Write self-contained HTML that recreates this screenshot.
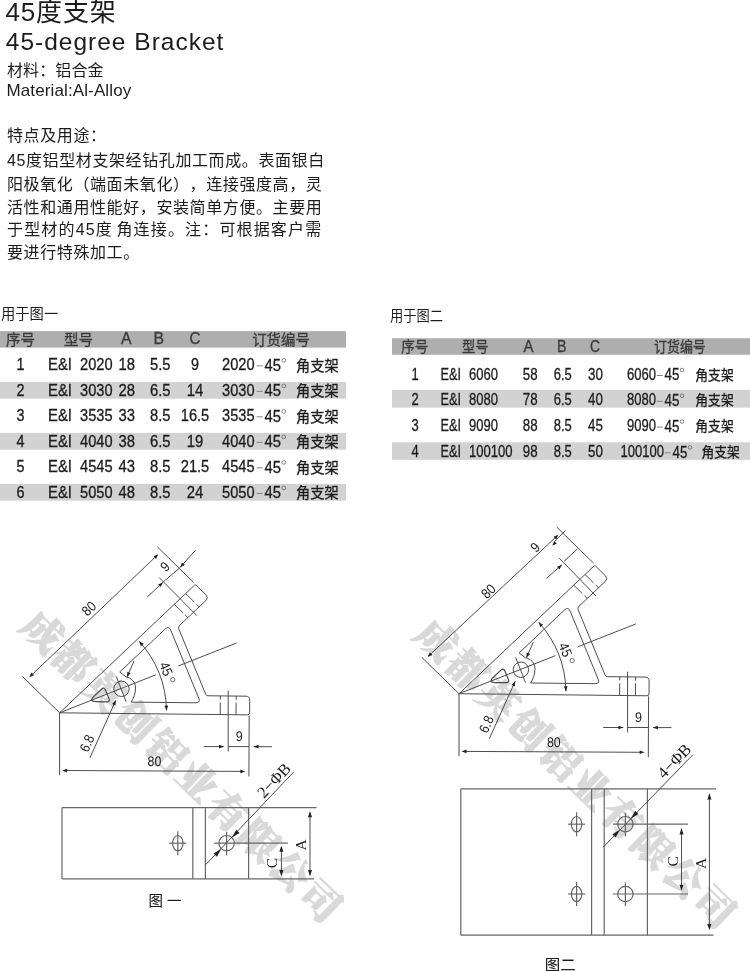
<!DOCTYPE html>
<html lang="zh-CN">
<head>
<meta charset="utf-8">
<title>45度支架 45-degree Bracket</title>
<style>
html,body{margin:0;padding:0;background:#fff;}
body{will-change:transform;filter:grayscale(1);}
body{width:750px;height:971px;position:relative;overflow:hidden;color:#1c1c1c;
 font-family:"Liberation Sans","Noto Sans CJK SC",sans-serif;text-spacing-trim:space-all;}
.t{position:absolute;white-space:nowrap;line-height:1;margin:0;}
.h1{left:5.6px;top:-0.6px;font-size:26px;letter-spacing:0.8px;}
.h2{left:5.8px;top:30px;font-size:24.5px;letter-spacing:1.0px;}
.m1{left:7px;top:62.6px;font-size:16px;letter-spacing:0.1px;}
.m2{left:6.5px;top:82px;font-size:17px;letter-spacing:0.12px;}
.p{left:7px;font-size:16px;letter-spacing:0.6px;}
</style>
</head>
<body>
<div class="t h1">45度支架</div>
<div class="t h2">45-degree Bracket</div>
<div class="t m1">材料：铝合金</div>
<div class="t m2">Material:Al-Alloy</div>
<div class="t p" style="top:128px">特点及用途：</div>
<div class="t p" style="top:153px">45度铝型材支架经钻孔加工而成。表面银白</div>
<div class="t p" style="top:176.6px">阳极氧化（端面未氧化），连接强度高，灵</div>
<div class="t p" style="top:199.6px">活性和通用性能好，安装简单方便。主要用</div>
<div class="t p" style="top:222px;letter-spacing:1.16px">于型材的45度<span style="margin-left:3.5px">角</span>连接。注：可根据客户需</div>
<div class="t p" style="top:245px">要进行特殊加工。</div>
<svg width="750" height="971" viewBox="0 0 750 971" style="position:absolute;left:0;top:0">
<g id="table1">
<text x="1.0" y="319.3" font-size="14.3" font-family='"Liberation Sans","Noto Sans CJK SC",sans-serif' text-anchor="start" fill="#1c1c1c" stroke="#1c1c1c" stroke-width="0">用于图一</text>
<rect x="0" y="331.1" width="346" height="16.5" fill="#aeaeae"/>
<rect x="0" y="381.9" width="346" height="16.8" fill="#d2d2d2"/>
<rect x="0" y="432.9" width="346" height="16.8" fill="#d2d2d2"/>
<rect x="0" y="483.9" width="346" height="16.8" fill="#d2d2d2"/>
<text x="6.0" y="344.6" font-size="14.5" font-family='"Liberation Sans","Noto Sans CJK SC",sans-serif' text-anchor="start" fill="#3a3a3a" stroke="#3a3a3a" stroke-width="0.3" textLength="29.0" lengthAdjust="spacingAndGlyphs">序号</text>
<text x="64.0" y="344.6" font-size="14.5" font-family='"Liberation Sans","Noto Sans CJK SC",sans-serif' text-anchor="start" fill="#3a3a3a" stroke="#3a3a3a" stroke-width="0.3" textLength="29.0" lengthAdjust="spacingAndGlyphs">型号</text>
<text x="121.0" y="344.2" font-size="16" font-family='"Liberation Sans","Noto Sans CJK SC",sans-serif' text-anchor="start" fill="#3a3a3a" stroke="#3a3a3a" stroke-width="0.3" textLength="10.5" lengthAdjust="spacingAndGlyphs">A</text>
<text x="153.5" y="344.2" font-size="16" font-family='"Liberation Sans","Noto Sans CJK SC",sans-serif' text-anchor="start" fill="#3a3a3a" stroke="#3a3a3a" stroke-width="0.3" textLength="10.5" lengthAdjust="spacingAndGlyphs">B</text>
<text x="189.5" y="344.2" font-size="16" font-family='"Liberation Sans","Noto Sans CJK SC",sans-serif' text-anchor="start" fill="#3a3a3a" stroke="#3a3a3a" stroke-width="0.3" textLength="11.0" lengthAdjust="spacingAndGlyphs">C</text>
<text x="252.2" y="344.6" font-size="14.5" font-family='"Liberation Sans","Noto Sans CJK SC",sans-serif' text-anchor="start" fill="#3a3a3a" stroke="#3a3a3a" stroke-width="0.3" textLength="57.6" lengthAdjust="spacingAndGlyphs">订货编号</text>
<text x="20.5" y="370.0" font-size="16" font-family='"Liberation Sans","Noto Sans CJK SC",sans-serif' text-anchor="middle" fill="#1c1c1c" stroke="#1c1c1c" stroke-width="0.3" textLength="8.0" lengthAdjust="spacingAndGlyphs">1</text>
<text x="48.0" y="370.0" font-size="16" font-family='"Liberation Sans","Noto Sans CJK SC",sans-serif' text-anchor="start" fill="#1c1c1c" stroke="#1c1c1c" stroke-width="0.3" textLength="24.0" lengthAdjust="spacingAndGlyphs">E&amp;I</text>
<text x="80.0" y="370.0" font-size="16" font-family='"Liberation Sans","Noto Sans CJK SC",sans-serif' text-anchor="start" fill="#1c1c1c" stroke="#1c1c1c" stroke-width="0.3" textLength="32.5" lengthAdjust="spacingAndGlyphs">2020</text>
<text x="118.5" y="370.0" font-size="16" font-family='"Liberation Sans","Noto Sans CJK SC",sans-serif' text-anchor="start" fill="#1c1c1c" stroke="#1c1c1c" stroke-width="0.3" textLength="16.5" lengthAdjust="spacingAndGlyphs">18</text>
<text x="150.0" y="370.0" font-size="16" font-family='"Liberation Sans","Noto Sans CJK SC",sans-serif' text-anchor="start" fill="#1c1c1c" stroke="#1c1c1c" stroke-width="0.3" textLength="20.5" lengthAdjust="spacingAndGlyphs">5.5</text>
<text x="195.0" y="370.0" font-size="16" font-family='"Liberation Sans","Noto Sans CJK SC",sans-serif' text-anchor="middle" fill="#1c1c1c" stroke="#1c1c1c" stroke-width="0.3" textLength="8.0" lengthAdjust="spacingAndGlyphs">9</text>
<text x="222.0" y="370.0" font-size="16" font-family='"Liberation Sans","Noto Sans CJK SC",sans-serif' text-anchor="start" fill="#1c1c1c" stroke="#1c1c1c" stroke-width="0.3" textLength="32.5" lengthAdjust="spacingAndGlyphs">2020</text>
<rect x="256.6" y="365.4" width="6" height="0.9" fill="#777"/>
<text x="264.5" y="370.6" font-size="16" font-family='"Liberation Sans","Noto Sans CJK SC",sans-serif' text-anchor="start" fill="#1c1c1c" stroke="#1c1c1c" stroke-width="0.3" textLength="16.5" lengthAdjust="spacingAndGlyphs">45</text>
<circle cx="283.8" cy="360.4" r="1.9" fill="none" stroke="#555" stroke-width="0.7"/>
<text x="296.0" y="370.5" font-size="15" font-family='"Liberation Sans","Noto Sans CJK SC",sans-serif' text-anchor="start" fill="#1c1c1c" stroke="#1c1c1c" stroke-width="0.3" textLength="42.6" lengthAdjust="spacingAndGlyphs">角支架</text>
<text x="20.5" y="395.5" font-size="16" font-family='"Liberation Sans","Noto Sans CJK SC",sans-serif' text-anchor="middle" fill="#1c1c1c" stroke="#1c1c1c" stroke-width="0.3" textLength="8.0" lengthAdjust="spacingAndGlyphs">2</text>
<text x="48.0" y="395.5" font-size="16" font-family='"Liberation Sans","Noto Sans CJK SC",sans-serif' text-anchor="start" fill="#1c1c1c" stroke="#1c1c1c" stroke-width="0.3" textLength="24.0" lengthAdjust="spacingAndGlyphs">E&amp;I</text>
<text x="80.0" y="395.5" font-size="16" font-family='"Liberation Sans","Noto Sans CJK SC",sans-serif' text-anchor="start" fill="#1c1c1c" stroke="#1c1c1c" stroke-width="0.3" textLength="32.5" lengthAdjust="spacingAndGlyphs">3030</text>
<text x="118.5" y="395.5" font-size="16" font-family='"Liberation Sans","Noto Sans CJK SC",sans-serif' text-anchor="start" fill="#1c1c1c" stroke="#1c1c1c" stroke-width="0.3" textLength="16.5" lengthAdjust="spacingAndGlyphs">28</text>
<text x="150.0" y="395.5" font-size="16" font-family='"Liberation Sans","Noto Sans CJK SC",sans-serif' text-anchor="start" fill="#1c1c1c" stroke="#1c1c1c" stroke-width="0.3" textLength="20.5" lengthAdjust="spacingAndGlyphs">6.5</text>
<text x="195.0" y="395.5" font-size="16" font-family='"Liberation Sans","Noto Sans CJK SC",sans-serif' text-anchor="middle" fill="#1c1c1c" stroke="#1c1c1c" stroke-width="0.3" textLength="16.5" lengthAdjust="spacingAndGlyphs">14</text>
<text x="222.0" y="395.5" font-size="16" font-family='"Liberation Sans","Noto Sans CJK SC",sans-serif' text-anchor="start" fill="#1c1c1c" stroke="#1c1c1c" stroke-width="0.3" textLength="32.5" lengthAdjust="spacingAndGlyphs">3030</text>
<rect x="256.6" y="390.9" width="6" height="0.9" fill="#777"/>
<text x="264.5" y="396.1" font-size="16" font-family='"Liberation Sans","Noto Sans CJK SC",sans-serif' text-anchor="start" fill="#1c1c1c" stroke="#1c1c1c" stroke-width="0.3" textLength="16.5" lengthAdjust="spacingAndGlyphs">45</text>
<circle cx="283.8" cy="385.9" r="1.9" fill="none" stroke="#555" stroke-width="0.7"/>
<text x="296.0" y="396.0" font-size="15" font-family='"Liberation Sans","Noto Sans CJK SC",sans-serif' text-anchor="start" fill="#1c1c1c" stroke="#1c1c1c" stroke-width="0.3" textLength="42.6" lengthAdjust="spacingAndGlyphs">角支架</text>
<text x="20.5" y="421.0" font-size="16" font-family='"Liberation Sans","Noto Sans CJK SC",sans-serif' text-anchor="middle" fill="#1c1c1c" stroke="#1c1c1c" stroke-width="0.3" textLength="8.0" lengthAdjust="spacingAndGlyphs">3</text>
<text x="48.0" y="421.0" font-size="16" font-family='"Liberation Sans","Noto Sans CJK SC",sans-serif' text-anchor="start" fill="#1c1c1c" stroke="#1c1c1c" stroke-width="0.3" textLength="24.0" lengthAdjust="spacingAndGlyphs">E&amp;I</text>
<text x="80.0" y="421.0" font-size="16" font-family='"Liberation Sans","Noto Sans CJK SC",sans-serif' text-anchor="start" fill="#1c1c1c" stroke="#1c1c1c" stroke-width="0.3" textLength="32.5" lengthAdjust="spacingAndGlyphs">3535</text>
<text x="118.5" y="421.0" font-size="16" font-family='"Liberation Sans","Noto Sans CJK SC",sans-serif' text-anchor="start" fill="#1c1c1c" stroke="#1c1c1c" stroke-width="0.3" textLength="16.5" lengthAdjust="spacingAndGlyphs">33</text>
<text x="150.0" y="421.0" font-size="16" font-family='"Liberation Sans","Noto Sans CJK SC",sans-serif' text-anchor="start" fill="#1c1c1c" stroke="#1c1c1c" stroke-width="0.3" textLength="20.5" lengthAdjust="spacingAndGlyphs">8.5</text>
<text x="195.0" y="421.0" font-size="16" font-family='"Liberation Sans","Noto Sans CJK SC",sans-serif' text-anchor="middle" fill="#1c1c1c" stroke="#1c1c1c" stroke-width="0.3" textLength="28.5" lengthAdjust="spacingAndGlyphs">16.5</text>
<text x="222.0" y="421.0" font-size="16" font-family='"Liberation Sans","Noto Sans CJK SC",sans-serif' text-anchor="start" fill="#1c1c1c" stroke="#1c1c1c" stroke-width="0.3" textLength="32.5" lengthAdjust="spacingAndGlyphs">3535</text>
<rect x="256.6" y="416.4" width="6" height="0.9" fill="#777"/>
<text x="264.5" y="421.6" font-size="16" font-family='"Liberation Sans","Noto Sans CJK SC",sans-serif' text-anchor="start" fill="#1c1c1c" stroke="#1c1c1c" stroke-width="0.3" textLength="16.5" lengthAdjust="spacingAndGlyphs">45</text>
<circle cx="283.8" cy="411.4" r="1.9" fill="none" stroke="#555" stroke-width="0.7"/>
<text x="296.0" y="421.5" font-size="15" font-family='"Liberation Sans","Noto Sans CJK SC",sans-serif' text-anchor="start" fill="#1c1c1c" stroke="#1c1c1c" stroke-width="0.3" textLength="42.6" lengthAdjust="spacingAndGlyphs">角支架</text>
<text x="20.5" y="446.5" font-size="16" font-family='"Liberation Sans","Noto Sans CJK SC",sans-serif' text-anchor="middle" fill="#1c1c1c" stroke="#1c1c1c" stroke-width="0.3" textLength="8.0" lengthAdjust="spacingAndGlyphs">4</text>
<text x="48.0" y="446.5" font-size="16" font-family='"Liberation Sans","Noto Sans CJK SC",sans-serif' text-anchor="start" fill="#1c1c1c" stroke="#1c1c1c" stroke-width="0.3" textLength="24.0" lengthAdjust="spacingAndGlyphs">E&amp;I</text>
<text x="80.0" y="446.5" font-size="16" font-family='"Liberation Sans","Noto Sans CJK SC",sans-serif' text-anchor="start" fill="#1c1c1c" stroke="#1c1c1c" stroke-width="0.3" textLength="32.5" lengthAdjust="spacingAndGlyphs">4040</text>
<text x="118.5" y="446.5" font-size="16" font-family='"Liberation Sans","Noto Sans CJK SC",sans-serif' text-anchor="start" fill="#1c1c1c" stroke="#1c1c1c" stroke-width="0.3" textLength="16.5" lengthAdjust="spacingAndGlyphs">38</text>
<text x="150.0" y="446.5" font-size="16" font-family='"Liberation Sans","Noto Sans CJK SC",sans-serif' text-anchor="start" fill="#1c1c1c" stroke="#1c1c1c" stroke-width="0.3" textLength="20.5" lengthAdjust="spacingAndGlyphs">6.5</text>
<text x="195.0" y="446.5" font-size="16" font-family='"Liberation Sans","Noto Sans CJK SC",sans-serif' text-anchor="middle" fill="#1c1c1c" stroke="#1c1c1c" stroke-width="0.3" textLength="16.5" lengthAdjust="spacingAndGlyphs">19</text>
<text x="222.0" y="446.5" font-size="16" font-family='"Liberation Sans","Noto Sans CJK SC",sans-serif' text-anchor="start" fill="#1c1c1c" stroke="#1c1c1c" stroke-width="0.3" textLength="32.5" lengthAdjust="spacingAndGlyphs">4040</text>
<rect x="256.6" y="441.9" width="6" height="0.9" fill="#777"/>
<text x="264.5" y="447.1" font-size="16" font-family='"Liberation Sans","Noto Sans CJK SC",sans-serif' text-anchor="start" fill="#1c1c1c" stroke="#1c1c1c" stroke-width="0.3" textLength="16.5" lengthAdjust="spacingAndGlyphs">45</text>
<circle cx="283.8" cy="436.9" r="1.9" fill="none" stroke="#555" stroke-width="0.7"/>
<text x="296.0" y="447.0" font-size="15" font-family='"Liberation Sans","Noto Sans CJK SC",sans-serif' text-anchor="start" fill="#1c1c1c" stroke="#1c1c1c" stroke-width="0.3" textLength="42.6" lengthAdjust="spacingAndGlyphs">角支架</text>
<text x="20.5" y="472.0" font-size="16" font-family='"Liberation Sans","Noto Sans CJK SC",sans-serif' text-anchor="middle" fill="#1c1c1c" stroke="#1c1c1c" stroke-width="0.3" textLength="8.0" lengthAdjust="spacingAndGlyphs">5</text>
<text x="48.0" y="472.0" font-size="16" font-family='"Liberation Sans","Noto Sans CJK SC",sans-serif' text-anchor="start" fill="#1c1c1c" stroke="#1c1c1c" stroke-width="0.3" textLength="24.0" lengthAdjust="spacingAndGlyphs">E&amp;I</text>
<text x="80.0" y="472.0" font-size="16" font-family='"Liberation Sans","Noto Sans CJK SC",sans-serif' text-anchor="start" fill="#1c1c1c" stroke="#1c1c1c" stroke-width="0.3" textLength="32.5" lengthAdjust="spacingAndGlyphs">4545</text>
<text x="118.5" y="472.0" font-size="16" font-family='"Liberation Sans","Noto Sans CJK SC",sans-serif' text-anchor="start" fill="#1c1c1c" stroke="#1c1c1c" stroke-width="0.3" textLength="16.5" lengthAdjust="spacingAndGlyphs">43</text>
<text x="150.0" y="472.0" font-size="16" font-family='"Liberation Sans","Noto Sans CJK SC",sans-serif' text-anchor="start" fill="#1c1c1c" stroke="#1c1c1c" stroke-width="0.3" textLength="20.5" lengthAdjust="spacingAndGlyphs">8.5</text>
<text x="195.0" y="472.0" font-size="16" font-family='"Liberation Sans","Noto Sans CJK SC",sans-serif' text-anchor="middle" fill="#1c1c1c" stroke="#1c1c1c" stroke-width="0.3" textLength="28.5" lengthAdjust="spacingAndGlyphs">21.5</text>
<text x="222.0" y="472.0" font-size="16" font-family='"Liberation Sans","Noto Sans CJK SC",sans-serif' text-anchor="start" fill="#1c1c1c" stroke="#1c1c1c" stroke-width="0.3" textLength="32.5" lengthAdjust="spacingAndGlyphs">4545</text>
<rect x="256.6" y="467.4" width="6" height="0.9" fill="#777"/>
<text x="264.5" y="472.6" font-size="16" font-family='"Liberation Sans","Noto Sans CJK SC",sans-serif' text-anchor="start" fill="#1c1c1c" stroke="#1c1c1c" stroke-width="0.3" textLength="16.5" lengthAdjust="spacingAndGlyphs">45</text>
<circle cx="283.8" cy="462.4" r="1.9" fill="none" stroke="#555" stroke-width="0.7"/>
<text x="296.0" y="472.5" font-size="15" font-family='"Liberation Sans","Noto Sans CJK SC",sans-serif' text-anchor="start" fill="#1c1c1c" stroke="#1c1c1c" stroke-width="0.3" textLength="42.6" lengthAdjust="spacingAndGlyphs">角支架</text>
<text x="20.5" y="497.5" font-size="16" font-family='"Liberation Sans","Noto Sans CJK SC",sans-serif' text-anchor="middle" fill="#1c1c1c" stroke="#1c1c1c" stroke-width="0.3" textLength="8.0" lengthAdjust="spacingAndGlyphs">6</text>
<text x="48.0" y="497.5" font-size="16" font-family='"Liberation Sans","Noto Sans CJK SC",sans-serif' text-anchor="start" fill="#1c1c1c" stroke="#1c1c1c" stroke-width="0.3" textLength="24.0" lengthAdjust="spacingAndGlyphs">E&amp;I</text>
<text x="80.0" y="497.5" font-size="16" font-family='"Liberation Sans","Noto Sans CJK SC",sans-serif' text-anchor="start" fill="#1c1c1c" stroke="#1c1c1c" stroke-width="0.3" textLength="32.5" lengthAdjust="spacingAndGlyphs">5050</text>
<text x="118.5" y="497.5" font-size="16" font-family='"Liberation Sans","Noto Sans CJK SC",sans-serif' text-anchor="start" fill="#1c1c1c" stroke="#1c1c1c" stroke-width="0.3" textLength="16.5" lengthAdjust="spacingAndGlyphs">48</text>
<text x="150.0" y="497.5" font-size="16" font-family='"Liberation Sans","Noto Sans CJK SC",sans-serif' text-anchor="start" fill="#1c1c1c" stroke="#1c1c1c" stroke-width="0.3" textLength="20.5" lengthAdjust="spacingAndGlyphs">8.5</text>
<text x="195.0" y="497.5" font-size="16" font-family='"Liberation Sans","Noto Sans CJK SC",sans-serif' text-anchor="middle" fill="#1c1c1c" stroke="#1c1c1c" stroke-width="0.3" textLength="16.5" lengthAdjust="spacingAndGlyphs">24</text>
<text x="222.0" y="497.5" font-size="16" font-family='"Liberation Sans","Noto Sans CJK SC",sans-serif' text-anchor="start" fill="#1c1c1c" stroke="#1c1c1c" stroke-width="0.3" textLength="32.5" lengthAdjust="spacingAndGlyphs">5050</text>
<rect x="256.6" y="492.9" width="6" height="0.9" fill="#777"/>
<text x="264.5" y="498.1" font-size="16" font-family='"Liberation Sans","Noto Sans CJK SC",sans-serif' text-anchor="start" fill="#1c1c1c" stroke="#1c1c1c" stroke-width="0.3" textLength="16.5" lengthAdjust="spacingAndGlyphs">45</text>
<circle cx="283.8" cy="487.9" r="1.9" fill="none" stroke="#555" stroke-width="0.7"/>
<text x="296.0" y="498.0" font-size="15" font-family='"Liberation Sans","Noto Sans CJK SC",sans-serif' text-anchor="start" fill="#1c1c1c" stroke="#1c1c1c" stroke-width="0.3" textLength="42.6" lengthAdjust="spacingAndGlyphs">角支架</text>
</g>
<g id="table2">
<text x="390.0" y="321.3" font-size="14.3" font-family='"Liberation Sans","Noto Sans CJK SC",sans-serif' text-anchor="start" fill="#1c1c1c" stroke="#1c1c1c" stroke-width="0" textLength="53.0" lengthAdjust="spacingAndGlyphs">用于图二</text>
<rect x="392" y="338.2" width="358" height="16.6" fill="#aeaeae"/>
<rect x="392" y="390" width="358" height="17.6" fill="#d2d2d2"/>
<rect x="392" y="442.3" width="358" height="17.6" fill="#d2d2d2"/>
<text x="401.3" y="352.2" font-size="14.5" font-family='"Liberation Sans","Noto Sans CJK SC",sans-serif' text-anchor="start" fill="#3a3a3a" stroke="#3a3a3a" stroke-width="0.3" textLength="27.0" lengthAdjust="spacingAndGlyphs">序号</text>
<text x="462.0" y="352.2" font-size="14.5" font-family='"Liberation Sans","Noto Sans CJK SC",sans-serif' text-anchor="start" fill="#3a3a3a" stroke="#3a3a3a" stroke-width="0.3" textLength="26.5" lengthAdjust="spacingAndGlyphs">型号</text>
<text x="523.5" y="351.8" font-size="16" font-family='"Liberation Sans","Noto Sans CJK SC",sans-serif' text-anchor="start" fill="#3a3a3a" stroke="#3a3a3a" stroke-width="0.3" textLength="10.0" lengthAdjust="spacingAndGlyphs">A</text>
<text x="557.0" y="351.8" font-size="16" font-family='"Liberation Sans","Noto Sans CJK SC",sans-serif' text-anchor="start" fill="#3a3a3a" stroke="#3a3a3a" stroke-width="0.3" textLength="9.5" lengthAdjust="spacingAndGlyphs">B</text>
<text x="590.0" y="351.8" font-size="16" font-family='"Liberation Sans","Noto Sans CJK SC",sans-serif' text-anchor="start" fill="#3a3a3a" stroke="#3a3a3a" stroke-width="0.3" textLength="10.0" lengthAdjust="spacingAndGlyphs">C</text>
<text x="654.0" y="352.2" font-size="14.5" font-family='"Liberation Sans","Noto Sans CJK SC",sans-serif' text-anchor="start" fill="#3a3a3a" stroke="#3a3a3a" stroke-width="0.3" textLength="51.8" lengthAdjust="spacingAndGlyphs">订货编号</text>
<text x="415.0" y="379.6" font-size="16" font-family='"Liberation Sans","Noto Sans CJK SC",sans-serif' text-anchor="middle" fill="#1c1c1c" stroke="#1c1c1c" stroke-width="0.3" textLength="7.2" lengthAdjust="spacingAndGlyphs">1</text>
<text x="440.5" y="379.6" font-size="16" font-family='"Liberation Sans","Noto Sans CJK SC",sans-serif' text-anchor="start" fill="#1c1c1c" stroke="#1c1c1c" stroke-width="0.3" textLength="20.5" lengthAdjust="spacingAndGlyphs">E&amp;I</text>
<text x="469.0" y="379.6" font-size="16" font-family='"Liberation Sans","Noto Sans CJK SC",sans-serif' text-anchor="start" fill="#1c1c1c" stroke="#1c1c1c" stroke-width="0.3" textLength="29.0" lengthAdjust="spacingAndGlyphs">6060</text>
<text x="522.8" y="379.6" font-size="16" font-family='"Liberation Sans","Noto Sans CJK SC",sans-serif' text-anchor="start" fill="#1c1c1c" stroke="#1c1c1c" stroke-width="0.3" textLength="14.8" lengthAdjust="spacingAndGlyphs">58</text>
<text x="553.8" y="379.6" font-size="16" font-family='"Liberation Sans","Noto Sans CJK SC",sans-serif' text-anchor="start" fill="#1c1c1c" stroke="#1c1c1c" stroke-width="0.3" textLength="18.0" lengthAdjust="spacingAndGlyphs">6.5</text>
<text x="588.0" y="379.6" font-size="16" font-family='"Liberation Sans","Noto Sans CJK SC",sans-serif' text-anchor="start" fill="#1c1c1c" stroke="#1c1c1c" stroke-width="0.3" textLength="14.8" lengthAdjust="spacingAndGlyphs">30</text>
<text x="627.0" y="379.6" font-size="16" font-family='"Liberation Sans","Noto Sans CJK SC",sans-serif' text-anchor="start" fill="#1c1c1c" stroke="#1c1c1c" stroke-width="0.3" textLength="29.0" lengthAdjust="spacingAndGlyphs">6060</text>
<rect x="656.8" y="375.0" width="6" height="0.9" fill="#777"/>
<text x="664.5" y="380.2" font-size="16" font-family='"Liberation Sans","Noto Sans CJK SC",sans-serif' text-anchor="start" fill="#1c1c1c" stroke="#1c1c1c" stroke-width="0.3" textLength="14.8" lengthAdjust="spacingAndGlyphs">45</text>
<circle cx="682.0" cy="370.0" r="1.8" fill="none" stroke="#555" stroke-width="0.7"/>
<text x="695.3" y="379.5" font-size="14.2" font-family='"Liberation Sans","Noto Sans CJK SC",sans-serif' text-anchor="start" fill="#1c1c1c" stroke="#1c1c1c" stroke-width="0.3" textLength="38.4" lengthAdjust="spacingAndGlyphs">角支架</text>
<text x="415.0" y="405.4" font-size="16" font-family='"Liberation Sans","Noto Sans CJK SC",sans-serif' text-anchor="middle" fill="#1c1c1c" stroke="#1c1c1c" stroke-width="0.3" textLength="7.2" lengthAdjust="spacingAndGlyphs">2</text>
<text x="440.5" y="405.4" font-size="16" font-family='"Liberation Sans","Noto Sans CJK SC",sans-serif' text-anchor="start" fill="#1c1c1c" stroke="#1c1c1c" stroke-width="0.3" textLength="20.5" lengthAdjust="spacingAndGlyphs">E&amp;I</text>
<text x="469.0" y="405.4" font-size="16" font-family='"Liberation Sans","Noto Sans CJK SC",sans-serif' text-anchor="start" fill="#1c1c1c" stroke="#1c1c1c" stroke-width="0.3" textLength="29.0" lengthAdjust="spacingAndGlyphs">8080</text>
<text x="522.8" y="405.4" font-size="16" font-family='"Liberation Sans","Noto Sans CJK SC",sans-serif' text-anchor="start" fill="#1c1c1c" stroke="#1c1c1c" stroke-width="0.3" textLength="14.8" lengthAdjust="spacingAndGlyphs">78</text>
<text x="553.8" y="405.4" font-size="16" font-family='"Liberation Sans","Noto Sans CJK SC",sans-serif' text-anchor="start" fill="#1c1c1c" stroke="#1c1c1c" stroke-width="0.3" textLength="18.0" lengthAdjust="spacingAndGlyphs">6.5</text>
<text x="588.0" y="405.4" font-size="16" font-family='"Liberation Sans","Noto Sans CJK SC",sans-serif' text-anchor="start" fill="#1c1c1c" stroke="#1c1c1c" stroke-width="0.3" textLength="14.8" lengthAdjust="spacingAndGlyphs">40</text>
<text x="627.0" y="405.4" font-size="16" font-family='"Liberation Sans","Noto Sans CJK SC",sans-serif' text-anchor="start" fill="#1c1c1c" stroke="#1c1c1c" stroke-width="0.3" textLength="29.0" lengthAdjust="spacingAndGlyphs">8080</text>
<rect x="656.8" y="400.8" width="6" height="0.9" fill="#777"/>
<text x="664.5" y="406.0" font-size="16" font-family='"Liberation Sans","Noto Sans CJK SC",sans-serif' text-anchor="start" fill="#1c1c1c" stroke="#1c1c1c" stroke-width="0.3" textLength="14.8" lengthAdjust="spacingAndGlyphs">45</text>
<circle cx="682.0" cy="395.8" r="1.8" fill="none" stroke="#555" stroke-width="0.7"/>
<text x="695.3" y="405.3" font-size="14.2" font-family='"Liberation Sans","Noto Sans CJK SC",sans-serif' text-anchor="start" fill="#1c1c1c" stroke="#1c1c1c" stroke-width="0.3" textLength="38.4" lengthAdjust="spacingAndGlyphs">角支架</text>
<text x="415.0" y="431.2" font-size="16" font-family='"Liberation Sans","Noto Sans CJK SC",sans-serif' text-anchor="middle" fill="#1c1c1c" stroke="#1c1c1c" stroke-width="0.3" textLength="7.2" lengthAdjust="spacingAndGlyphs">3</text>
<text x="440.5" y="431.2" font-size="16" font-family='"Liberation Sans","Noto Sans CJK SC",sans-serif' text-anchor="start" fill="#1c1c1c" stroke="#1c1c1c" stroke-width="0.3" textLength="20.5" lengthAdjust="spacingAndGlyphs">E&amp;I</text>
<text x="469.0" y="431.2" font-size="16" font-family='"Liberation Sans","Noto Sans CJK SC",sans-serif' text-anchor="start" fill="#1c1c1c" stroke="#1c1c1c" stroke-width="0.3" textLength="29.0" lengthAdjust="spacingAndGlyphs">9090</text>
<text x="522.8" y="431.2" font-size="16" font-family='"Liberation Sans","Noto Sans CJK SC",sans-serif' text-anchor="start" fill="#1c1c1c" stroke="#1c1c1c" stroke-width="0.3" textLength="14.8" lengthAdjust="spacingAndGlyphs">88</text>
<text x="553.8" y="431.2" font-size="16" font-family='"Liberation Sans","Noto Sans CJK SC",sans-serif' text-anchor="start" fill="#1c1c1c" stroke="#1c1c1c" stroke-width="0.3" textLength="18.0" lengthAdjust="spacingAndGlyphs">8.5</text>
<text x="588.0" y="431.2" font-size="16" font-family='"Liberation Sans","Noto Sans CJK SC",sans-serif' text-anchor="start" fill="#1c1c1c" stroke="#1c1c1c" stroke-width="0.3" textLength="14.8" lengthAdjust="spacingAndGlyphs">45</text>
<text x="627.0" y="431.2" font-size="16" font-family='"Liberation Sans","Noto Sans CJK SC",sans-serif' text-anchor="start" fill="#1c1c1c" stroke="#1c1c1c" stroke-width="0.3" textLength="29.0" lengthAdjust="spacingAndGlyphs">9090</text>
<rect x="656.8" y="426.6" width="6" height="0.9" fill="#777"/>
<text x="664.5" y="431.8" font-size="16" font-family='"Liberation Sans","Noto Sans CJK SC",sans-serif' text-anchor="start" fill="#1c1c1c" stroke="#1c1c1c" stroke-width="0.3" textLength="14.8" lengthAdjust="spacingAndGlyphs">45</text>
<circle cx="682.0" cy="421.6" r="1.8" fill="none" stroke="#555" stroke-width="0.7"/>
<text x="695.3" y="431.1" font-size="14.2" font-family='"Liberation Sans","Noto Sans CJK SC",sans-serif' text-anchor="start" fill="#1c1c1c" stroke="#1c1c1c" stroke-width="0.3" textLength="38.4" lengthAdjust="spacingAndGlyphs">角支架</text>
<text x="415.0" y="457.0" font-size="16" font-family='"Liberation Sans","Noto Sans CJK SC",sans-serif' text-anchor="middle" fill="#1c1c1c" stroke="#1c1c1c" stroke-width="0.3" textLength="7.2" lengthAdjust="spacingAndGlyphs">4</text>
<text x="440.5" y="457.0" font-size="16" font-family='"Liberation Sans","Noto Sans CJK SC",sans-serif' text-anchor="start" fill="#1c1c1c" stroke="#1c1c1c" stroke-width="0.3" textLength="20.5" lengthAdjust="spacingAndGlyphs">E&amp;I</text>
<text x="469.0" y="457.0" font-size="16" font-family='"Liberation Sans","Noto Sans CJK SC",sans-serif' text-anchor="start" fill="#1c1c1c" stroke="#1c1c1c" stroke-width="0.3" textLength="43.5" lengthAdjust="spacingAndGlyphs">100100</text>
<text x="522.8" y="457.0" font-size="16" font-family='"Liberation Sans","Noto Sans CJK SC",sans-serif' text-anchor="start" fill="#1c1c1c" stroke="#1c1c1c" stroke-width="0.3" textLength="14.8" lengthAdjust="spacingAndGlyphs">98</text>
<text x="553.8" y="457.0" font-size="16" font-family='"Liberation Sans","Noto Sans CJK SC",sans-serif' text-anchor="start" fill="#1c1c1c" stroke="#1c1c1c" stroke-width="0.3" textLength="18.0" lengthAdjust="spacingAndGlyphs">8.5</text>
<text x="588.0" y="457.0" font-size="16" font-family='"Liberation Sans","Noto Sans CJK SC",sans-serif' text-anchor="start" fill="#1c1c1c" stroke="#1c1c1c" stroke-width="0.3" textLength="14.8" lengthAdjust="spacingAndGlyphs">50</text>
<text x="620.5" y="457.0" font-size="16" font-family='"Liberation Sans","Noto Sans CJK SC",sans-serif' text-anchor="start" fill="#1c1c1c" stroke="#1c1c1c" stroke-width="0.3" textLength="43.5" lengthAdjust="spacingAndGlyphs">100100</text>
<rect x="664.8" y="452.4" width="6" height="0.9" fill="#777"/>
<text x="672.5" y="457.6" font-size="16" font-family='"Liberation Sans","Noto Sans CJK SC",sans-serif' text-anchor="start" fill="#1c1c1c" stroke="#1c1c1c" stroke-width="0.3" textLength="14.8" lengthAdjust="spacingAndGlyphs">45</text>
<circle cx="690.0" cy="447.4" r="1.8" fill="none" stroke="#555" stroke-width="0.7"/>
<text x="701.5" y="456.9" font-size="14.2" font-family='"Liberation Sans","Noto Sans CJK SC",sans-serif' text-anchor="start" fill="#1c1c1c" stroke="#1c1c1c" stroke-width="0.3" textLength="38.4" lengthAdjust="spacingAndGlyphs">角支架</text>
</g>
<text fill="#d9d9d9" stroke="#d9d9d9" stroke-width="1.1" stroke-linejoin="round" font-family='"Noto Serif CJK SC","Liberation Serif",serif' font-weight="900" font-size="39.5" text-anchor="middle" transform="translate(42.6,631.8) rotate(44.05)" x="0.00 43.02 86.04 129.06 172.08 215.10 258.12 301.13 344.15 387.17" y="14.2">成都英创铝业有限公司</text>
<text fill="#d9d9d9" stroke="#d9d9d9" stroke-width="1.1" stroke-linejoin="round" font-family='"Noto Serif CJK SC","Liberation Serif",serif' font-weight="900" font-size="39.5" text-anchor="middle" transform="translate(436.7,640.3) rotate(43.85)" x="0.00 42.82 85.63 128.45 171.27 214.08 256.90 299.72 342.54 385.35" y="14.2">成都英创铝业有限公司</text>
<g transform="translate(59.6,712.8) rotate(0.63)">
<g fill="none" stroke="#444" stroke-width="0.95" stroke-linecap="butt" stroke-linejoin="round">
<path d="M0.00 0.00 L188.00 0.00 Q190.00 -0.00 190.00 -2.00 L190.00 -14.66 Q190.00 -18.66 186.00 -18.66 L148.17 -18.66 Q146.52 -18.66 145.87 -20.19 L118.22 -85.25 Q117.41 -87.15 118.90 -88.58 L145.02 -113.84 Q148.00 -116.72 145.02 -119.60 L135.18 -129.11 Q134.35 -129.92 133.52 -129.11 Z"/>
<path d="M71.50 -11.50 L135.96 -11.51 Q140.96 -11.51 139.00 -16.11 L110.23 -83.82 Q108.27 -88.42 104.68 -84.95 L59.67 -41.43 L66.10 -36.60 C71 -35.6 75.7 -32 75.7 -25.5 C75.7 -20 73.8 -15.5 71.50 -11.50 Z"/>
<path d="M34.19 -16.79 Q28.73 -11.51 36.45 -11.51 L47.01 -11.51 Q50.60 -11.51 49.23 -14.72 L45.57 -23.25 Q44.19 -26.46 41.65 -24.01 Z" stroke-width="1.2" stroke="#4a4a4a"/>
<circle cx="61.60" cy="-24.66" r="7.7"/>
<line x1="0.00" y1="0.00" x2="95.85" y2="-39.04"/>
<line x1="118.08" y1="-48.10" x2="176.12" y2="-71.74"/>
<line x1="56.30" y1="-36.92" x2="66.37" y2="-11.83"/>
<line x1="30.79" y1="44.76" x2="56.06" y2="-13.12"/><path d="M56.06 -13.12 L55.79 -7.89 L52.40 -9.37 Z" fill="#222" stroke="none"/>
<line x1="73.83" y1="-52.51" x2="67.00" y2="-36.64"/><path d="M67.00 -36.64 L67.24 -41.87 L70.64 -40.41 Z" fill="#222" stroke="none"/>
<path d="M106.94 -3.55 A107 107 0 0 0 78.76 -72.43"/>
<path d="M106.94 -3.55 L104.79 -8.32 L108.48 -8.55 Z" fill="#222" stroke="none"/>
<path d="M78.76 -72.43 L83.37 -69.93 L80.57 -67.51 Z" fill="#222" stroke="none"/>
<line x1="160.60" y1="-0.00" x2="160.60" y2="-18.66" stroke-dasharray="12 3 4.3 3"/>
<line x1="113.56" y1="-109.81" x2="127.21" y2="-96.62" stroke-dasharray="12 3 4.3 3"/>
<line x1="176.40" y1="-0.00" x2="176.40" y2="-18.66" stroke-dasharray="12 3 4.3 3"/>
<line x1="124.73" y1="-120.62" x2="138.38" y2="-107.42" stroke-dasharray="12 3 4.3 3"/>
<line x1="0.00" y1="0.00" x2="0.69" y2="62.50"/>
<line x1="189.62" y1="0.52" x2="189.99" y2="61.51"/>
<line x1="6.13" y1="57.64" x2="183.63" y2="56.58"/>
<path d="M3.23 57.67 L8.12 55.79 L8.14 59.49 Z" fill="#222" stroke="none"/>
<path d="M186.23 56.56 L181.34 58.43 L181.32 54.73 Z" fill="#222" stroke="none"/>
<line x1="168.35" y1="-23.85" x2="169.02" y2="36.84"/>
<line x1="168.96" y1="31.94" x2="189.76" y2="31.72"/>
<line x1="144.56" y1="32.21" x2="164.66" y2="31.99"/><path d="M164.66 31.99 L159.78 33.90 L159.74 30.20 Z" fill="#222" stroke="none"/>
<line x1="212.76" y1="31.56" x2="194.36" y2="31.76"/><path d="M194.36 31.76 L199.24 29.86 L199.28 33.56 Z" fill="#222" stroke="none"/>
<line x1="0.00" y1="0.00" x2="-37.60" y2="-35.89"/>
<line x1="132.56" y1="-131.87" x2="95.87" y2="-167.06"/>
<line x1="98.11" y1="-136.29" x2="136.12" y2="-98.70"/>
<line x1="-27.92" y1="-37.90" x2="94.28" y2="-157.05"/>
<path d="M-30.79 -35.16 L-28.57 -39.91 L-25.99 -37.26 Z" fill="#222" stroke="none"/>
<path d="M96.95 -159.58 L94.73 -154.83 L92.15 -157.48 Z" fill="#222" stroke="none"/>
<line x1="102.25" y1="-132.03" x2="118.50" y2="-146.21"/>
<line x1="86.22" y1="-116.56" x2="101.86" y2="-131.53"/><path d="M101.86 -131.53 L99.60 -126.80 L97.04 -129.48 Z" fill="#222" stroke="none"/>
<line x1="134.20" y1="-164.09" x2="118.89" y2="-146.72"/><path d="M118.89 -146.72 L120.75 -151.62 L123.52 -149.17 Z" fill="#222" stroke="none"/>
</g>
<text transform="translate(179.8,21.7) rotate(-0.6)" x="0" y="5.0" font-size="14" font-family='"Liberation Sans","Noto Sans CJK SC",sans-serif' text-anchor="middle" fill="#1c1c1c" stroke="none" textLength="7.0" lengthAdjust="spacingAndGlyphs">9</text>
<text transform="translate(95.3,46.8) rotate(-0.6)" x="0" y="5.0" font-size="14" font-family='"Liberation Sans","Noto Sans CJK SC",sans-serif' text-anchor="middle" fill="#1c1c1c" stroke="none" textLength="13.8" lengthAdjust="spacingAndGlyphs">80</text>
<text transform="translate(27.6,30.1) rotate(-66.6)" x="0" y="5.0" font-size="14" font-family='"Liberation Sans","Noto Sans CJK SC",sans-serif' text-anchor="middle" fill="#1c1c1c" stroke="none" textLength="17.0" lengthAdjust="spacingAndGlyphs">6.8</text>
<text transform="translate(106.1,-45.2) rotate(66.4)" x="0" y="5.0" font-size="14" font-family='"Liberation Sans","Noto Sans CJK SC",sans-serif' text-anchor="middle" fill="#1c1c1c" stroke="none" textLength="13.8" lengthAdjust="spacingAndGlyphs">45</text>
<circle cx="112.8" cy="-34.4" r="2.1" fill="none" stroke="#333" stroke-width="0.7"/>
<text transform="translate(28.1,-104.7) rotate(-44.1)" x="0" y="5.0" font-size="14" font-family='"Liberation Sans","Noto Sans CJK SC",sans-serif' text-anchor="middle" fill="#1c1c1c" stroke="none" textLength="13.8" lengthAdjust="spacingAndGlyphs">80</text>
<text transform="translate(103.6,-147.5) rotate(-44.1)" x="0" y="5.0" font-size="14" font-family='"Liberation Sans","Noto Sans CJK SC",sans-serif' text-anchor="middle" fill="#1c1c1c" stroke="none" textLength="7.0" lengthAdjust="spacingAndGlyphs">9</text>
</g>
<g transform="translate(459.0,693.7) rotate(0.63)">
<g fill="none" stroke="#444" stroke-width="0.95" stroke-linecap="butt" stroke-linejoin="round">
<path d="M0.00 0.00 L188.00 0.00 Q190.00 -0.00 190.00 -2.00 L190.00 -14.66 Q190.00 -18.66 186.00 -18.66 L148.17 -18.66 Q146.52 -18.66 145.87 -20.19 L118.22 -85.25 Q117.41 -87.15 118.90 -88.58 L145.02 -113.84 Q148.00 -116.72 145.02 -119.60 L135.18 -129.11 Q134.35 -129.92 133.52 -129.11 Z"/>
<path d="M71.50 -11.50 L135.96 -11.51 Q140.96 -11.51 139.00 -16.11 L110.23 -83.82 Q108.27 -88.42 104.68 -84.95 L59.67 -41.43 L66.10 -36.60 C71 -35.6 75.7 -32 75.7 -25.5 C75.7 -20 73.8 -15.5 71.50 -11.50 Z"/>
<path d="M34.19 -16.79 Q28.73 -11.51 36.45 -11.51 L47.01 -11.51 Q50.60 -11.51 49.23 -14.72 L45.57 -23.25 Q44.19 -26.46 41.65 -24.01 Z" stroke-width="1.2" stroke="#4a4a4a"/>
<circle cx="61.60" cy="-24.66" r="7.7"/>
<line x1="0.00" y1="0.00" x2="95.85" y2="-39.04"/>
<line x1="118.08" y1="-48.10" x2="176.12" y2="-71.74"/>
<line x1="56.30" y1="-36.92" x2="66.37" y2="-11.83"/>
<line x1="30.79" y1="44.76" x2="56.06" y2="-13.12"/><path d="M56.06 -13.12 L55.79 -7.89 L52.40 -9.37 Z" fill="#222" stroke="none"/>
<line x1="73.83" y1="-52.51" x2="67.00" y2="-36.64"/><path d="M67.00 -36.64 L67.24 -41.87 L70.64 -40.41 Z" fill="#222" stroke="none"/>
<path d="M106.94 -3.55 A107 107 0 0 0 78.76 -72.43"/>
<path d="M106.94 -3.55 L104.79 -8.32 L108.48 -8.55 Z" fill="#222" stroke="none"/>
<path d="M78.76 -72.43 L83.37 -69.93 L80.57 -67.51 Z" fill="#222" stroke="none"/>
<line x1="160.60" y1="-0.00" x2="160.60" y2="-18.66" stroke-dasharray="12 3 4.3 3"/>
<line x1="113.56" y1="-109.81" x2="127.21" y2="-96.62" stroke-dasharray="12 3 4.3 3"/>
<line x1="176.40" y1="-0.00" x2="176.40" y2="-18.66" stroke-dasharray="12 3 4.3 3"/>
<line x1="124.73" y1="-120.62" x2="138.38" y2="-107.42" stroke-dasharray="12 3 4.3 3"/>
<line x1="0.00" y1="0.00" x2="0.69" y2="62.50"/>
<line x1="189.62" y1="0.52" x2="189.99" y2="61.51"/>
<line x1="6.13" y1="57.64" x2="183.63" y2="56.58"/>
<path d="M3.23 57.67 L8.12 55.79 L8.14 59.49 Z" fill="#222" stroke="none"/>
<path d="M186.23 56.56 L181.34 58.43 L181.32 54.73 Z" fill="#222" stroke="none"/>
<line x1="168.35" y1="-23.85" x2="169.02" y2="36.84"/>
<line x1="168.96" y1="31.94" x2="189.76" y2="31.72"/>
<line x1="144.56" y1="32.21" x2="164.66" y2="31.99"/><path d="M164.66 31.99 L159.78 33.90 L159.74 30.20 Z" fill="#222" stroke="none"/>
<line x1="212.76" y1="31.56" x2="194.36" y2="31.76"/><path d="M194.36 31.76 L199.24 29.86 L199.28 33.56 Z" fill="#222" stroke="none"/>
<line x1="0.00" y1="0.00" x2="-37.60" y2="-35.89"/>
<line x1="133.16" y1="-131.97" x2="95.96" y2="-167.57"/>
<line x1="98.70" y1="-136.69" x2="135.92" y2="-99.20"/>
<line x1="-28.93" y1="-39.18" x2="94.78" y2="-157.35"/>
<path d="M-31.80 -36.45 L-29.54 -41.17 L-26.98 -38.50 Z" fill="#222" stroke="none"/>
<path d="M97.65 -160.08 L95.38 -155.36 L92.82 -158.04 Z" fill="#222" stroke="none"/>
<line x1="103.54" y1="-133.55" x2="117.00" y2="-146.20"/>
<line x1="86.13" y1="-116.25" x2="101.48" y2="-130.02"/><path d="M101.48 -130.02 L99.06 -125.37 L96.59 -128.13 Z" fill="#222" stroke="none"/>
<line x1="104.80" y1="-164.46" x2="93.72" y2="-153.14"/>
<path d="M91.66 -149.22 L93.60 -153.68 L96.18 -151.03 Z" fill="#222" stroke="none"/>
</g>
<text transform="translate(179.8,21.7) rotate(-0.6)" x="0" y="5.0" font-size="14" font-family='"Liberation Sans","Noto Sans CJK SC",sans-serif' text-anchor="middle" fill="#1c1c1c" stroke="none" textLength="7.0" lengthAdjust="spacingAndGlyphs">9</text>
<text transform="translate(95.3,46.8) rotate(-0.6)" x="0" y="5.0" font-size="14" font-family='"Liberation Sans","Noto Sans CJK SC",sans-serif' text-anchor="middle" fill="#1c1c1c" stroke="none" textLength="13.8" lengthAdjust="spacingAndGlyphs">80</text>
<text transform="translate(27.6,30.1) rotate(-66.6)" x="0" y="5.0" font-size="14" font-family='"Liberation Sans","Noto Sans CJK SC",sans-serif' text-anchor="middle" fill="#1c1c1c" stroke="none" textLength="17.0" lengthAdjust="spacingAndGlyphs">6.8</text>
<text transform="translate(106.1,-45.2) rotate(66.4)" x="0" y="5.0" font-size="14" font-family='"Liberation Sans","Noto Sans CJK SC",sans-serif' text-anchor="middle" fill="#1c1c1c" stroke="none" textLength="13.8" lengthAdjust="spacingAndGlyphs">45</text>
<circle cx="112.8" cy="-34.4" r="2.1" fill="none" stroke="#333" stroke-width="0.7"/>
<text transform="translate(28.2,-102.9) rotate(-44.1)" x="0" y="5.0" font-size="14" font-family='"Liberation Sans","Noto Sans CJK SC",sans-serif' text-anchor="middle" fill="#1c1c1c" stroke="none" textLength="13.8" lengthAdjust="spacingAndGlyphs">80</text>
<text transform="translate(74.6,-147.3) rotate(-44.1)" x="0" y="5.0" font-size="14" font-family='"Liberation Sans","Noto Sans CJK SC",sans-serif' text-anchor="middle" fill="#1c1c1c" stroke="none" textLength="7.0" lengthAdjust="spacingAndGlyphs">9</text>
</g>
<g fill="none" stroke="#666" stroke-width="1.2">
<line x1="62.00" y1="807.60" x2="316.60" y2="807.60"/>
<line x1="62.00" y1="878.90" x2="314.00" y2="878.90"/>
<line x1="62.00" y1="807.60" x2="62.00" y2="878.90"/>
<line x1="192.80" y1="807.60" x2="192.80" y2="878.90"/>
<line x1="205.40" y1="807.60" x2="205.40" y2="878.90"/>
<line x1="248.60" y1="807.60" x2="248.60" y2="878.90"/>
<circle cx="226.6" cy="843.2" r="7.7"/>
<ellipse cx="177.8" cy="843.2" rx="5.2" ry="7.7"/>
<line x1="214.10" y1="843.20" x2="287.90" y2="843.20"/>
<line x1="226.60" y1="831.70" x2="226.60" y2="855.20"/>
<line x1="169.30" y1="843.20" x2="186.30" y2="843.20"/>
<line x1="177.80" y1="831.20" x2="177.80" y2="855.20"/>
<line x1="205.90" y1="864.50" x2="293.60" y2="772.10" stroke="#444" stroke-width="0.95"/>
<path d="M232.04 837.47 L236.22 829.72 L239.56 832.89 Z" fill="#222" stroke="none"/>
<path d="M221.16 848.93 L216.98 856.68 L213.64 853.51 Z" fill="#222" stroke="none"/>
<line x1="281.40" y1="847.40" x2="281.40" y2="874.40" stroke="#444" stroke-width="0.95"/>
<path d="M281.40 845.40 L283.40 851.70 L279.40 851.70 Z" fill="#222" stroke="none"/>
<path d="M281.40 876.40 L279.40 870.10 L283.40 870.10 Z" fill="#222" stroke="none"/>
<line x1="310.00" y1="813.00" x2="310.00" y2="874.30" stroke="#444" stroke-width="0.95"/>
<path d="M310.00 811.00 L312.00 817.30 L308.00 817.30 Z" fill="#222" stroke="none"/>
<path d="M310.00 876.30 L308.00 870.00 L312.00 870.00 Z" fill="#222" stroke="none"/>
</g>
<text transform="translate(273.6,780.2) rotate(-46.5)" x="0" y="5.9" font-size="16.5" font-family='"Liberation Serif","Noto Serif CJK SC",serif' text-anchor="middle" fill="#1c1c1c" stroke="none">2−ΦB</text>
<text transform="translate(271.8,863.2) rotate(-90.0)" x="0" y="5.6" font-size="15.5" font-family='"Liberation Serif","Noto Serif CJK SC",serif' text-anchor="middle" fill="#1c1c1c" stroke="none">C</text>
<text transform="translate(300.5,844.8) rotate(-90.0)" x="0" y="5.6" font-size="15.5" font-family='"Liberation Serif","Noto Serif CJK SC",serif' text-anchor="middle" fill="#1c1c1c" stroke="none">A</text>
<text x="165.0" y="906.3" font-size="14.5" font-family='"Liberation Sans","Noto Sans CJK SC",sans-serif' text-anchor="middle" fill="#1c1c1c" stroke="#1c1c1c" stroke-width="0.1">图 一</text>
<g fill="none" stroke="#666" stroke-width="1.2">
<line x1="460.80" y1="788.80" x2="716.00" y2="788.80"/>
<line x1="460.80" y1="935.20" x2="713.40" y2="935.20"/>
<line x1="460.80" y1="788.80" x2="460.80" y2="935.20"/>
<line x1="591.60" y1="788.80" x2="591.60" y2="935.20"/>
<line x1="604.20" y1="788.80" x2="604.20" y2="935.20"/>
<line x1="647.40" y1="788.80" x2="647.40" y2="935.20"/>
<circle cx="625.4" cy="824.2" r="7.7"/>
<ellipse cx="576.6" cy="824.2" rx="5.2" ry="7.7"/>
<line x1="612.90" y1="824.20" x2="688.00" y2="824.20"/>
<line x1="625.40" y1="812.70" x2="625.40" y2="836.20"/>
<line x1="568.10" y1="824.20" x2="585.10" y2="824.20"/>
<line x1="576.60" y1="812.20" x2="576.60" y2="836.20"/>
<circle cx="625.4" cy="894.0" r="7.7"/>
<ellipse cx="576.6" cy="894.0" rx="5.2" ry="7.7"/>
<line x1="612.90" y1="894.00" x2="688.00" y2="894.00"/>
<line x1="625.40" y1="882.50" x2="625.40" y2="906.00"/>
<line x1="568.10" y1="894.00" x2="585.10" y2="894.00"/>
<line x1="576.60" y1="882.00" x2="576.60" y2="906.00"/>
<line x1="603.20" y1="847.20" x2="692.80" y2="754.80" stroke="#444" stroke-width="0.95"/>
<path d="M630.90 818.53 L635.17 810.83 L638.47 814.03 Z" fill="#222" stroke="none"/>
<path d="M619.90 829.87 L615.63 837.57 L612.33 834.37 Z" fill="#222" stroke="none"/>
<line x1="681.50" y1="830.10" x2="681.50" y2="889.10" stroke="#444" stroke-width="0.95"/>
<path d="M681.50 828.10 L683.50 834.40 L679.50 834.40 Z" fill="#222" stroke="none"/>
<path d="M681.50 891.10 L679.50 884.80 L683.50 884.80 Z" fill="#222" stroke="none"/>
<line x1="709.40" y1="795.10" x2="709.40" y2="928.20" stroke="#444" stroke-width="0.95"/>
<path d="M709.40 793.10 L711.40 799.40 L707.40 799.40 Z" fill="#222" stroke="none"/>
<path d="M709.40 930.20 L707.40 923.90 L711.40 923.90 Z" fill="#222" stroke="none"/>
</g>
<text transform="translate(673.9,760.7) rotate(-45.9)" x="0" y="5.9" font-size="16.5" font-family='"Liberation Serif","Noto Serif CJK SC",serif' text-anchor="middle" fill="#1c1c1c" stroke="none">4−ΦB</text>
<text transform="translate(671.9,861.3) rotate(-90.0)" x="0" y="5.6" font-size="15.5" font-family='"Liberation Serif","Noto Serif CJK SC",serif' text-anchor="middle" fill="#1c1c1c" stroke="none">C</text>
<text transform="translate(699.9,863.5) rotate(-90.0)" x="0" y="5.6" font-size="15.5" font-family='"Liberation Serif","Noto Serif CJK SC",serif' text-anchor="middle" fill="#1c1c1c" stroke="none">A</text>
<text x="560.2" y="970.3" font-size="14.5" font-family='"Liberation Sans","Noto Sans CJK SC",sans-serif' text-anchor="middle" fill="#1c1c1c" stroke="#1c1c1c" stroke-width="0.1" textLength="31.0" lengthAdjust="spacingAndGlyphs">图二</text>
</svg>
</body>
</html>
